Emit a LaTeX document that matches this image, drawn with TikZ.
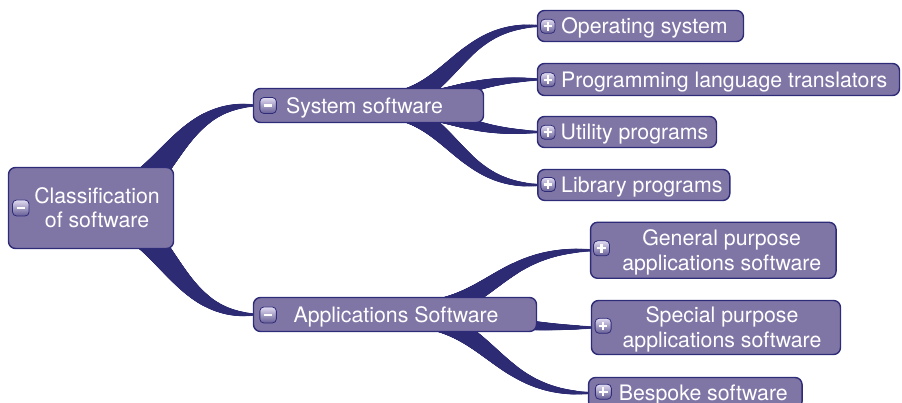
\documentclass[tikz,border=0pt]{standalone}
\usepackage{fontspec}
\setmainfont{TeX Gyre Heros}
\usetikzlibrary{calc,backgrounds,decorations.markings}

\definecolor{nodefill}{RGB}{128,118,166}
\definecolor{nodeline}{RGB}{46,44,120}
\definecolor{branchcol}{RGB}{44,43,116}
\definecolor{icontop}{RGB}{226,220,242}
\definecolor{iconbot}{RGB}{100,92,148}

\tikzset{
  topic/.style={draw=nodeline, line width=1.4pt, fill=nodefill, rounded corners=7pt,
    text=white, font=\fontsize{21.3}{24.7}\selectfont, inner sep=0pt,
    text height=15.3pt, text depth=0pt},
  twoline/.style={text depth=24.7pt},
  % tapering branch: width shrinks linearly from #1 to #2 along the path
  taper/.style 2 args={decorate, decoration={markings,
    mark=between positions 0 and 1 step 0.003 with {
      \pgfmathsetmacro\tr{(#1-(#1-#2)*\pgfkeysvalueof{/pgf/decoration/mark info/distance from start}/\pgfdecoratedpathlength)/2}
      \fill[branchcol] (0,0) circle[radius=\tr pt];}}},
}

% text shifted sideways inside its box
\newcommand{\sh}[2]{\hspace*{#1pt}#2\hspace*{-#1pt}}
\newcommand{\tl}[3]{\hspace*{#1pt}\begin{tabular}[t]{@{}c@{}}#2\\#3\end{tabular}\hspace*{-#1pt}}

% curved branch from (near) the centre of one topic to the left side of another
% [#1] horizontal offset of the start, #2 parent, #3 child, #4/#5 start/end width
\newcommand{\branch}[5][0]{%
  \path ([xshift=#1pt]#2.center) coordinate (bs);
  \path ($(bs)!0.5!(#3.west)$) coordinate (bm);
  \path[taper={#4}{#5}] (bs) .. controls (bm |- bs) and (bm |- #3.west) .. (#3.west);
}

% expand/collapse button: node, dx, dy, width, height, 1 = plus / 0 = minus
\newcommand{\topicicon}[6]{%
  \begin{scope}[shift={($(#1.west)+(#2,#3)$)}]
    \draw[draw=nodeline, line width=0.8pt, top color=icontop, bottom color=iconbot,
      rounded corners=4pt] (-#4/2,-#5/2) rectangle (#4/2,#5/2);
    \draw[white, line width=2.2pt] (-4.3,0) -- (4.3,0);
    \ifnum#6=1 \draw[white, line width=2.2pt] (0,-4.3) -- (0,4.3);\fi
  \end{scope}
}

\begin{document}
\begin{tikzpicture}[x=1pt, y=-1pt]
\useasboundingbox (0,0) rectangle (902,403);

% topics
\node[topic, twoline, minimum width=165pt, minimum height=81pt] (root) at (91,208)
  {\tl{6}{Classification}{of software}};
\node[topic, minimum width=230pt, minimum height=34pt] (sys) at (368.5,105.5)
  {\sh{-4}{System software}};
\node[topic, minimum width=283pt, minimum height=34pt] (app) at (395,314.5)
  {\sh{1}{Applications Software}};

\node[topic, minimum width=206pt, minimum height=31pt] (os) at (640.5,26)
  {\sh{4}{Operating system}};
\node[topic, minimum width=362pt, minimum height=32pt] (plt) at (718.5,79.5)
  {\sh{5.7}{Programming language translators}};
\node[topic, minimum width=179pt, minimum height=31pt] (util) at (627,132)
  {\sh{7.5}{Utility programs}};
\node[topic, minimum width=192pt, minimum height=31pt] (lib) at (633.8,185)
  {\sh{8}{Library programs}};

\node[topic, twoline, minimum width=245.5pt, minimum height=56pt] (gp) at (713.3,250.3)
  {\tl{8.4}{General purpose}{applications software}};
\node[topic, twoline, minimum width=249pt, minimum height=54pt] (sp) at (716,327.5)
  {\tl{6}{Special purpose}{applications software}};
\node[topic, minimum width=213.5pt, minimum height=31pt] (besp) at (695.3,393)
  {\sh{8}{Bespoke software}};

% branches behind the topics
\begin{pgfonlayer}{background}
  \fill[white] (0,0) rectangle (902,403);
  \branch[-10]{root}{sys}{40}{2.4}
  \branch[-10]{root}{app}{40}{2.4}
  \branch{sys}{os}{25}{2.4}
  \branch{sys}{plt}{24}{2.4}
  \branch{sys}{util}{24}{2.4}
  \branch{sys}{lib}{25}{2.4}
  \branch{app}{gp}{26}{2.4}
  \branch{app}{sp}{26}{2.4}
  \branch{app}{besp}{26}{2.4}
\end{pgfonlayer}

% expand / collapse buttons
\topicicon{root}{13}{0}{16.5}{16}{0}
\topicicon{sys}{15.3}{0}{16.5}{16}{0}
\topicicon{app}{15.3}{0.5}{16.5}{16}{0}
\topicicon{os}{11}{0.3}{14.5}{14}{1}
\topicicon{plt}{11}{0.3}{14.5}{14}{1}
\topicicon{util}{11}{0.3}{14.5}{14}{1}
\topicicon{lib}{11}{-0.5}{14.5}{14}{1}
\topicicon{gp}{11.7}{-2}{16}{15}{1}
\topicicon{sp}{12.3}{-1.7}{16}{15}{1}
\topicicon{besp}{15.5}{-1.3}{16}{15}{1}
\end{tikzpicture}
\end{document}
